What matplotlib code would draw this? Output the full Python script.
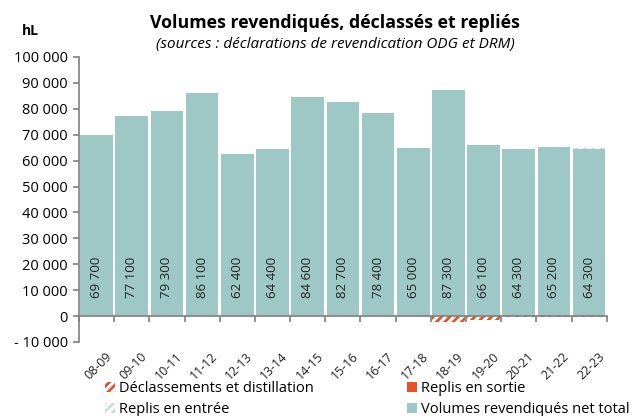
import matplotlib.pyplot as plt
import numpy as np

plt.rcParams['font.family'] = ['Open Sans', 'DejaVu Sans']
plt.rcParams['hatch.linewidth'] = 2.0

campagnes = ["08-09", "09-10", "10-11", "11-12", "12-13", "13-14", "14-15", "15-16",
             "16-17", "17-18", "18-19", "19-20", "20-21", "21-22", "22-23"]
net_total = [69700, 77100, 79300, 86100, 62400, 64400, 84600, 82700,
             78400, 65000, 87300, 66100, 64300, 65200, 64300]
declassements = [0, 0, 0, 0, 0, 0, 0, 0, 0, 0, -2300, -1500, -300, -500, -200]
replis_sortie = [0] * 15
replis_entree = [0, 0, 0, 0, 0, 0, 0, 0, 0, 0, 0, 0, 0, 0, 500]

teal = "#9dc8c6"
orange = "#e8502a"
grey = "#7f7f7f"


def fmt(v):
    s = "{:,}".format(abs(int(v))).replace(",", " ")
    return "- " + s if v < 0 else s


def main():
    fig = plt.figure(figsize=(6.32, 4.16), dpi=100)
    ax = fig.add_axes([0.125, 0.178, 0.835, 0.685])
    x = np.arange(len(campagnes))
    w = 0.93

    b_decl = ax.bar(x, declassements, w, color="white", edgecolor=orange, hatch="////",
                    linewidth=0, label="Déclassements et distillation")
    b_sortie = ax.bar(x, replis_sortie, w, bottom=declassements, color=orange, linewidth=0,
                      label="Replis en sortie")
    b_entree = ax.bar(x, replis_entree, w, bottom=net_total, color="white", edgecolor="#c5dedd",
                      hatch="////", linewidth=0, label="Replis en entrée")
    b_net = ax.bar(x, net_total, w, color=teal, linewidth=0, label="Volumes revendiqués net total")

    for xi, v in zip(x, net_total):
        ax.text(xi, 15000, fmt(v), rotation=90, ha="center", va="center",
                fontsize=9.5, color="#222222")

    ax.set_ylim(-10000, 100000)
    ax.set_xlim(-0.5, len(campagnes) - 0.5)
    ax.set_yticks(range(-10000, 100001, 10000))
    ax.set_yticklabels([fmt(v) for v in range(-10000, 100001, 10000)], fontsize=10.5)

    # axe x a zero, graduations entre les categories
    ax.spines["top"].set_visible(False)
    ax.spines["right"].set_visible(False)
    ax.spines["bottom"].set_position(("data", 0))
    ax.spines["bottom"].set_color(grey)
    ax.spines["left"].set_color(grey)
    ax.spines["bottom"].set_linewidth(1.2)
    ax.spines["left"].set_linewidth(1.2)
    ax.set_xticks(np.arange(-0.5, len(campagnes), 1.0))
    ax.set_xticklabels([])
    ax.tick_params(axis="x", direction="out", length=4, color=grey, width=1.2)
    ax.tick_params(axis="y", direction="out", length=4, color=grey, width=1.2, pad=4)

    for xi, lab in zip(x, campagnes):
        ax.text(xi + 0.25, -13000, lab, rotation=45, ha="right", va="top",
                fontsize=9, color="#222222", rotation_mode="anchor")

    fig.text(0.53, 0.945, "Volumes revendiqués, déclassés et repliés",
             ha="center", va="center", fontsize=12.8, fontweight="bold")
    fig.text(0.53, 0.893, "(sources : déclarations de revendication ODG et DRM)",
             ha="center", va="center", fontsize=11, style="italic")
    fig.text(0.048, 0.925, "hL", ha="center", va="center", fontsize=10, fontweight="bold")

    handles = [b_decl, b_entree, b_sortie, b_net]
    labels = ["Déclassements et distillation", "Replis en entrée",
              "Replis en sortie", "Volumes revendiqués net total"]
    fig.legend(handles, labels, loc="lower left", bbox_to_anchor=(0.145, -0.035),
               ncol=2, frameon=False, fontsize=10.5, handlelength=0.7,
               handleheight=0.7, handletextpad=0.3, columnspacing=6.35,
               labelspacing=0.42)

    fig.savefig("out.png", dpi=100)


if __name__ == "__main__":
    main()
